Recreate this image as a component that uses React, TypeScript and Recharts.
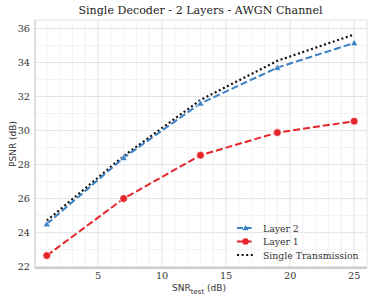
import React from 'react';
import { LineChart, Line, XAxis, YAxis, CartesianGrid, ReferenceLine } from 'recharts';

const snr = [1, 7, 13, 19, 25];
const layer2 = [24.5, 28.4, 31.6, 33.7, 35.15];
const layer1 = [22.65, 26.0, 28.55, 29.88, 30.55];
const single = [24.7, 28.5, 31.8, 34.1, 35.65];
const xTicks = [5, 10, 15, 20, 25];
const yTicks = [22, 24, 26, 28, 30, 32, 34, 36];
const xMinor = [1, 2, 3, 4, 6, 7, 8, 9, 11, 12, 13, 14, 16, 17, 18, 19, 21, 22, 23, 24, 26];
const yMinor = [23, 25, 27, 29, 31, 33, 35];

const data = snr.map((x, i) => ({ x, layer2: layer2[i], layer1: layer1[i], single: single[i] }));

const BLUE = '#3a80c3';
const RED = '#e5252a';
const SERIF = '"DejaVu Serif", serif';
const SANS = '"DejaVu Sans", sans-serif';

const Triangle = (props: any) => {
  const { cx, cy } = props;
  if (cx == null || cy == null) return null;
  const s = 3.6;
  return <polygon points={`${cx},${cy - s} ${cx - s},${cy + s * 0.75} ${cx + s},${cy + s * 0.75}`} fill={BLUE} stroke="#fff" strokeWidth={0.6} />;
};

const Circle = (props: any) => {
  const { cx, cy } = props;
  if (cx == null || cy == null) return null;
  return <circle cx={cx} cy={cy} r={3.8} fill={RED} stroke="#fff" strokeWidth={0.6} />;
};

const legendItems = [
  { name: 'Layer 2', color: BLUE, dash: '6 2.5', marker: 'tri' },
  { name: 'Layer 1', color: RED, dash: '6 2.5', marker: 'circle' },
  { name: 'Single Transmission', color: '#111', dash: '2 2.6', marker: 'none' },
];

const LegendBox = () => (
  <svg width={140} height={46} style={{ position: 'absolute', left: 233, top: 220 }}>
    {legendItems.map((it, i) => {
      const y = 8 + i * 13.5;
      return (
        <g key={it.name}>
          <line x1={4} x2={21} y1={y} y2={y} stroke={it.color} strokeWidth={2} strokeDasharray={it.dash} />
          {it.marker === 'tri' && <polygon points={`12.5,${y - 3} 9.5,${y + 2.3} 15.5,${y + 2.3}`} fill={BLUE} />}
          {it.marker === 'circle' && <circle cx={12.5} cy={y} r={3.2} fill={RED} />}
          <text x={30} y={y + 3.5} fontFamily={SERIF} fontSize={9.3} fill="#333">{it.name}</text>
        </g>
      );
    })}
  </svg>
);

const XLabel = (props: any) => {
  const { viewBox } = props;
  const cx = viewBox.x + viewBox.width / 2 - 2;
  return (
    <text x={cx} y={291} textAnchor="middle" fontFamily={SANS} fontSize={9} fill="#333">
      SNR<tspan fontSize={7} dy={2.5}>test</tspan><tspan dy={-2.5}> (dB)</tspan>
    </text>
  );
};

export default function App() {
  return (
    <div style={{ position: 'absolute', left: 0, top: 0, width: 374, height: 301, background: '#fff' }}>
      <div style={{ position: 'absolute', left: 0, top: 4, width: 401, textAlign: 'center', fontFamily: SERIF, fontSize: 11.1, color: '#222', lineHeight: '14px' }}>
        Single Decoder - 2 Layers - AWGN Channel
      </div>
      <LineChart width={374} height={301} data={data} margin={{ top: 20, right: 7, bottom: 0, left: 0 }}>
        {xMinor.map((v) => (
          <ReferenceLine key={'xm' + v} x={v} stroke="#f2f2f2" strokeWidth={1} />
        ))}
        {yMinor.map((v) => (
          <ReferenceLine key={'ym' + v} y={v} stroke="#f2f2f2" strokeWidth={1} />
        ))}
        <CartesianGrid stroke="#e4e4e4" strokeWidth={1} />
        <XAxis
          dataKey="x"
          type="number"
          domain={[0.08, 26]}
          ticks={xTicks}
          allowDataOverflow
          height={33}
          tickLine={false}
          tickSize={4}
          tickMargin={0}
          stroke="#cccccc"
          strokeWidth={2}
          tick={{ fontFamily: SERIF, fontSize: 9.7, fill: '#333' }}
          label={<XLabel />}
        />
        <YAxis
          type="number"
          domain={[21.92, 36.5]}
          ticks={yTicks}
          allowDataOverflow
          width={35}
          tickLine={false}
          tickSize={4}
          tickMargin={1}
          stroke="#cccccc"
          tick={{ fontFamily: SERIF, fontSize: 9.7, fill: '#333' }}
          label={{ value: 'PSNR (dB)', angle: -90, position: 'insideLeft', dx: 8, dy: 0, style: { fontFamily: SANS, fontSize: 9, fill: '#333', textAnchor: 'middle' } }}
        />
        <Line dataKey="single" stroke="#111" strokeWidth={2.2} strokeDasharray="2 2.6" dot={false} isAnimationActive={false} />
        <Line dataKey="layer2" stroke={BLUE} strokeWidth={2} strokeDasharray="7 3" dot={<Triangle />} isAnimationActive={false} />
        <Line dataKey="layer1" stroke={RED} strokeWidth={2} strokeDasharray="7 3" dot={<Circle />} isAnimationActive={false} />
      </LineChart>
      <LegendBox />
    </div>
  );
}
